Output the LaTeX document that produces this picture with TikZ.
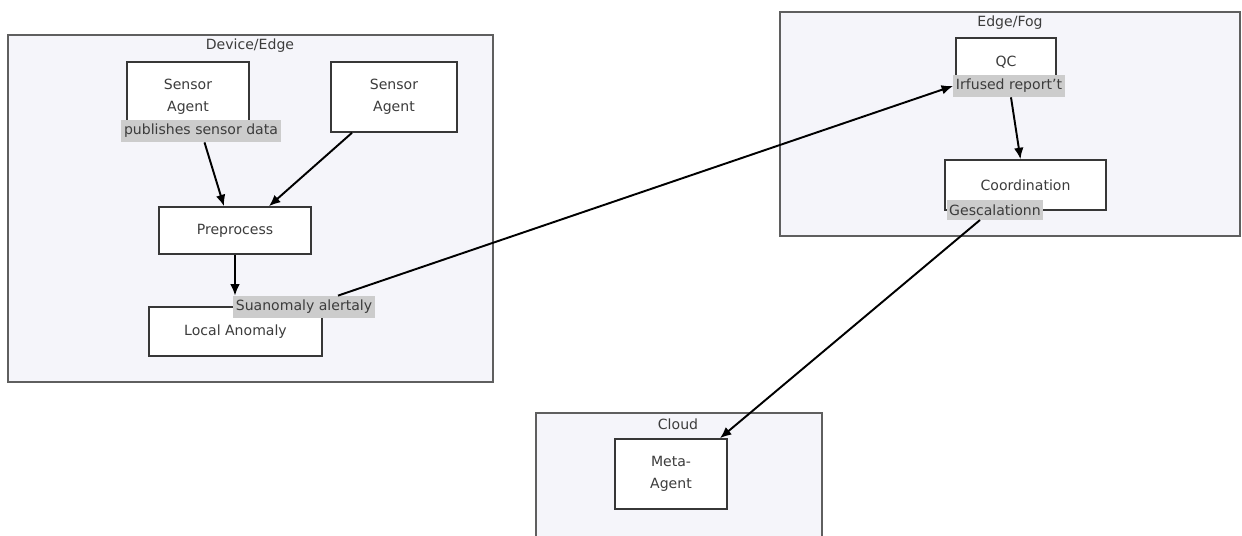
\documentclass[tikz,border=0pt]{standalone}
\usepackage{fontspec}
\setmainfont{DejaVu Sans}
\usetikzlibrary{arrows.meta}
\definecolor{clusterfill}{RGB}{245,245,250}
\definecolor{clusterline}{RGB}{95,95,95}
\definecolor{boxline}{RGB}{55,55,55}
\definecolor{labelgrey}{RGB}{204,204,204}
\definecolor{textgrey}{RGB}{60,60,60}
\tikzset{
  cluster/.style={draw=clusterline, fill=clusterfill, line width=0.9pt},
  title/.style={text=textgrey, font=\fontsize{8}{10}\selectfont, inner sep=0pt},
  agent/.style={draw=boxline, fill=white, line width=0.9pt, align=center, inner sep=0pt,
    text=textgrey, font=\fontsize{8}{12.8}\selectfont},
  edgelabel/.style={fill=labelgrey, inner xsep=1.5pt, inner ysep=2.4pt, text=textgrey,
    font=\fontsize{8}{10}\selectfont},
  flow/.style={-{Latex[length=6.5pt,width=5.5pt]}, line width=1.1pt, black},
}

\begin{document}
\begin{tikzpicture}[x=0.02cm,y=-0.02cm]
\useasboundingbox [fill=white] (0,0) rectangle (1242,536);

% clusters
\draw [cluster] (8,35) rectangle (493,382);
\node [title] (devtitle) at (250,46) {Device/Edge};
\draw [cluster] (780,12) rectangle (1240,236);
\node [title] (fogtitle) at (1010,23) {Edge/Fog};
\draw [cluster] (536,413) rectangle (822,540);
\node [title] (cloudtitle) at (678,424) {Cloud};

%% agents
% device/edge
\node [agent, minimum width=122*0.02cm, minimum height=70*0.02cm] (sa1) at (188,97) {Sensor\\Agent};
\node [agent, minimum width=126*0.02cm, minimum height=70*0.02cm] (sa2) at (394,97) {Sensor\\Agent};
\node [agent, minimum width=152*0.02cm, minimum height=47*0.02cm] (pre) at (235,230.5) {Preprocess};
\node [agent, minimum width=173*0.02cm, minimum height=49*0.02cm] (loc) at (235.5,331.5) {Local Anomaly};
% edge/fog
\node [agent, minimum width=100*0.02cm, minimum height=48*0.02cm] (qc) at (1006,62) {QC};
\node [agent, minimum width=161*0.02cm, minimum height=50*0.02cm] (coord) at (1025.5,185) {Coordination};
% cloud
\node [agent, minimum width=112*0.02cm, minimum height=70*0.02cm] (meta) at (671,474) {Meta-\\Agent};

%% edge labels
\node [edgelabel] (pub) at (201,131) {publishes sensor data};
\node [edgelabel] (alert) at (304,307) {Suanomaly alertaly};
\node [edgelabel] (fused) at (1009,86) {Irfused report't};
\node [edgelabel] (esc) at (995,210) {Gescalationn};

%% arrows
\draw [flow] (pub) -- ([xshift=-0.22cm]pre.north);
\draw [flow] ([xshift=-0.84cm]sa2.south) -- ([xshift=0.68cm]pre.north);
\draw [flow] (pre.south) -- (pre.south |- alert.north);
\draw [flow] ([xshift=0.68cm]alert.north) -- (fused.west);
\draw [flow] ([xshift=0.04cm]fused.south) -- ([xshift=-0.1cm]coord.north);
\draw [flow] ([xshift=-0.3cm]esc.south) -- ([xshift=0.98cm]meta.north);

\end{tikzpicture}
\end{document}
